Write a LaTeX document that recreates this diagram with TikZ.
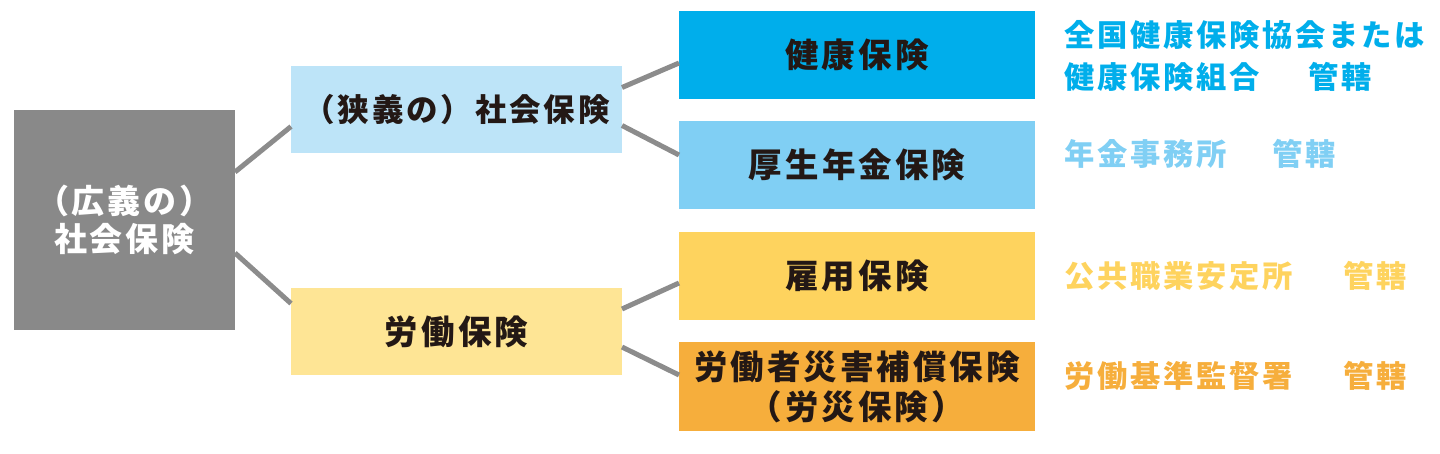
\documentclass[tikz,border=0pt]{standalone}
\usepackage{fontspec}
\setmainfont{Noto Sans CJK JP}[LetterSpace=9]
\definecolor{rootgray}{HTML}{898989}
\definecolor{linegray}{HTML}{8C8C8C}
\definecolor{boxAblue}{HTML}{BDE4F8}
\definecolor{boxByellow}{HTML}{FEE595}
\definecolor{leafblue}{HTML}{00AEEB}
\definecolor{leaflightblue}{HTML}{80CFF4}
\definecolor{leafyellow}{HTML}{FED35E}
\definecolor{leaforange}{HTML}{F6AE3C}
\definecolor{inkdark}{HTML}{231815}
\tikzset{
  box/.style={rectangle, inner sep=0pt, outer sep=0pt, align=center,
    text=inkdark, font=\fontsize{33.5}{40}\selectfont\bfseries},
  rootbox/.style={box, fill=rootgray, text=white, minimum width=221pt, minimum height=220pt,
    font=\fontsize{33}{38}\selectfont\bfseries},
  midbox/.style={box, minimum width=331pt, minimum height=87pt},
  leafbox/.style={box, minimum width=356pt, minimum height=88pt},
  note/.style={anchor=west, inner sep=0pt, align=left,
    font=\fontsize{30.3}{42}\selectfont\bfseries},
  conn/.style={draw=linegray, line width=5pt}
}
\begin{document}
\begin{tikzpicture}[x=1pt,y=-1pt]
\useasboundingbox (0,0) rectangle (1440,453);
\node[rootbox] (root) at (124.5,220) {（広義の）\\社会保険};
\node[midbox, fill=boxAblue, font=\fontsize{31.5}{40}\selectfont\bfseries] (A) at (456.5,109.5) {（狭義の）社会保険};
\node[midbox, fill=boxByellow] (B) at (456.5,331.5) {労働保険};
\node[leafbox, fill=leafblue] (L1) at (857,55) {健康保険};
\node[leafbox, fill=leaflightblue] (L2) at (857,165) {厚生年金保険};
\node[leafbox, fill=leafyellow] (L3) at (857,275.5) {雇用保険};
\node[leafbox, fill=leaforange, minimum height=89pt] (L4) at (857,386.5) {労働者災害補償保険\\（労災保険）};
\draw[conn] ([yshift=48pt]root.east) -- ([yshift=-17pt]A.west);
\draw[conn] ([yshift=-33pt]root.east) -- ([yshift=28pt]B.west);
\draw[conn] ([yshift=22pt]A.east) -- ([yshift=-8pt]L1.west);
\draw[conn] ([yshift=-16pt]A.east) -- ([yshift=10pt]L2.west);
\draw[conn] ([yshift=22.5pt]B.east) -- ([yshift=-7.5pt]L3.west);
\draw[conn] ([yshift=-15.5pt]B.east) -- ([yshift=11.5pt]L4.west);
\node[note, text=leafblue] (N1) at (1064,56) {全国健康保険協会または\\健康保険組合\hspace{49pt}管轄};
\node[note, text=leaflightblue] (N2) at (1064,154) {年金事務所\hspace{46pt}管轄};
\node[note, text=leafyellow] (N3) at (1064,276) {公共職業安定所\hspace{51pt}管轄};
\node[note, text=leaforange] (N4) at (1064,376) {労働基準監督署\hspace{51pt}管轄};
\end{tikzpicture}
\end{document}
